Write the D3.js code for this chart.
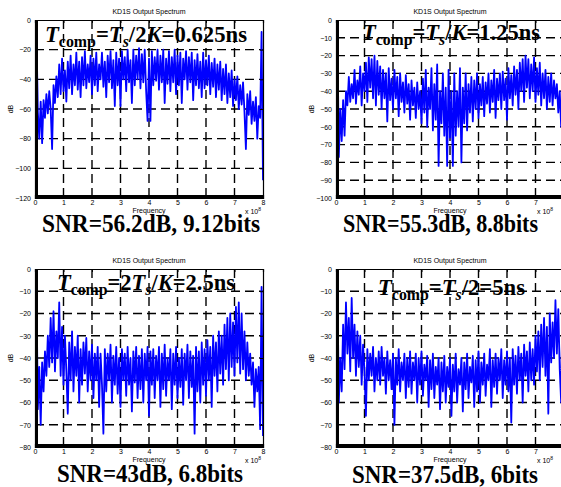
<!DOCTYPE html>
<html>
<head>
<meta charset="utf-8">
<script src="https://cdn.jsdelivr.net/npm/d3@7"></script>
<style>
	body { margin: 0; background: white; }
	svg { display: block; }
	.small { font-family: "Liberation Sans", Arial, sans-serif; font-size: 7px; fill: #000; }
	.big { font-family: "Liberation Serif", "Times New Roman", serif; font-weight: bold; fill: #000; }
	.grid line { stroke: #000; stroke-width: 1.4; stroke-dasharray: 9,5; }
	.spec { fill: none; stroke: #0000ff; stroke-width: 1.8; stroke-linejoin: round; }
</style>
</head>
<body>
<div id="container"></div>
<script>
	// frequency grid (x 10^8), step 0.05
	var freq = d3.range(0, 161).map(function(i) { return i * 0.05; });

	var xTicks = [0, 1, 2, 3, 4, 5, 6, 7, 8];
	var yTicks1 = [0, -20, -40, -60, -80, -100, -120];
	var yTicks2 = [0, -10, -20, -30, -40, -50, -60, -70, -80, -90, -100];
	var yTicks34 = [0, -10, -20, -30, -40, -50, -60, -70, -80];

	// spectrum of Tcomp = Ts/2K
	var spec1 = [
		-108,-8,-62,-80,-55,-83,-54,-66,-50,-63,-48,-60,-87,-44,-56,-38,-52,-30,-50,-26,
		-48,-34,-55,-28,-46,-24,-50,-30,-44,-22,-47,-28,-52,-25,-44,-21,-46,-30,-42,-24,
		-50,-26,-44,-22,-48,-30,-40,-22,-45,-28,-52,-24,-42,-21,-46,-27,-58,-22,-44,-26,
		-58,-21,-40,-25,-48,-20,-42,-27,-56,-20,-44,-24,-40,-19,-46,-23,-42,-20,-48,-68,
		-26,-68,-21,-44,-25,-41,-20,-47,-24,-42,-20,-56,-26,-43,-21,-48,-25,-42,-20,-50,
		-24,-44,-22,-56,-26,-40,-21,-47,-25,-42,-22,-54,-27,-44,-23,-46,-28,-52,-22,-46,
		-27,-44,-24,-50,-29,-45,-26,-52,-30,-47,-28,-54,-33,-50,-30,-56,-36,-52,-34,-58,
		-40,-54,-38,-60,-44,-57,-42,-62,-87,-50,-64,-48,-70,-55,-68,-52,-80,-58,-66,-8,
		-108
	];

	// spectrum of Tcomp = Ts/K
	var spec2 = [
		-92,-8,-77,-50,-68,-45,-65,-40,-48,-32,-46,-36,-44,-28,-47,-34,-42,-26,-48,-30,
		-40,-24,-46,-21,-38,-22,-44,-20,-48,-23,-42,-26,-50,-28,-44,-30,-57,-27,-45,-33,
		-50,-28,-44,-32,-54,-30,-46,-35,-52,-31,-47,-36,-56,-34,-48,-38,-55,-35,-50,-40,
		-58,-33,-52,-28,-60,-38,-50,-27,-62,-36,-56,-25,-82,-40,-58,-30,-65,-38,-82,-28,
		-66,-40,-82,-30,-65,-40,-60,-27,-80,-38,-58,-30,-62,-36,-52,-32,-57,-34,-50,-30,
		-55,-36,-48,-32,-54,-35,-47,-30,-52,-34,-46,-28,-55,-33,-45,-30,-50,-29,-45,-33,
		-56,-27,-44,-31,-48,-26,-42,-28,-50,-24,-40,-22,-46,-20,-38,-22,-44,-25,-40,-21,
		-46,-27,-42,-24,-48,-30,-44,-28,-50,-32,-46,-30,-48,-34,-44,-36,-52,-40,-60,-50,
		-75
	];

	// spectrum of Tcomp = 2Ts/K
	var spec3 = [
		-72,-8,-63,-44,-70,-42,-55,-37,-48,-30,-44,-22,-42,-19,-46,-28,-40,-15,-48,-26,
		-52,-30,-46,-65,-33,-50,-28,-55,-35,-48,-30,-60,-36,-52,-33,-47,-31,-55,-37,-50,
		-34,-58,-38,-50,-35,-62,-38,-52,-74,-36,-55,-38,-50,-34,-60,-39,-52,-35,-56,-40,
		-62,-36,-50,-38,-57,-35,-52,-40,-64,-37,-51,-35,-58,-39,-54,-36,-60,-38,-50,-35,
		-66,-37,-52,-36,-58,-39,-50,-35,-62,-38,-54,-34,-57,-40,-50,-36,-63,-38,-52,-35,
		-58,-40,-53,-36,-61,-38,-50,-34,-58,-37,-53,-39,-74,-35,-55,-37,-60,-33,-52,-36,
		-57,-32,-50,-35,-62,-30,-48,-33,-55,-28,-47,-30,-52,-25,-45,-22,-50,-20,-44,-24,
		-48,-17,-42,-15,-47,-20,-45,-28,-50,-33,-48,-38,-52,-42,-62,-45,-55,-44,-72,-8,
		-75
	];

	// spectrum of Tcomp = Ts/2
	var spec4 = [
		-77,-8,-60,-40,-55,-25,-45,-15,-38,-22,-46,-13,-40,-25,-48,-28,-44,-30,-52,-34,
		-46,-66,-36,-50,-38,-48,-35,-55,-40,-50,-37,-52,-35,-48,-40,-56,-37,-50,-41,-54,
		-38,-70,-40,-52,-36,-55,-42,-50,-38,-58,-40,-53,-37,-56,-42,-50,-38,-60,-40,-52,
		-37,-57,-43,-50,-39,-62,-41,-54,-38,-58,-44,-52,-40,-63,-42,-55,-39,-60,-44,-53,
		-40,-66,-43,-55,-38,-60,-45,-52,-40,-64,-42,-54,-38,-58,-44,-51,-39,-62,-41,-55,
		-37,-60,-42,-52,-38,-57,-43,-50,-36,-62,-41,-53,-38,-56,-40,-50,-36,-58,-41,-52,
		-37,-55,-40,-69,-36,-52,-39,-56,-35,-50,-38,-60,-34,-48,-37,-55,-33,-50,-36,-52,
		-30,-46,-28,-50,-25,-44,-22,-48,-26,-65,-20,-42,-24,-40,-14,-38,-18,-45,-60,-12,
		-62
	];

	var titleText = "KD1S Output Spectrum";
	var xLabel = "Frequency";
	var yLabel = "dB";

	// annotation pieces: [text, kind]  kind: n normal, i italic, sub subscript, isub italic subscript
	var tcomp1 = [["T","i"],["comp","sub"],["=","n"],["T","i"],["s","isub"],["/2","n"],["K","i"],["=0.625ns","n"]];
	var tcomp2 = [["T","i"],["comp","sub"],["=","n"],["T","i"],["s","isub"],["/","n"],["K","i"],["=1.25ns","n"]];
	var tcomp3 = [["T","i"],["comp","sub"],["=2","n"],["T","i"],["s","isub"],["/","n"],["K","i"],["=2.5ns","n"]];
	var tcomp4 = [["T","i"],["comp","sub"],["=","n"],["T","i"],["s","isub"],["/2=5ns","n"]];
	var snr1 = "SNR=56.2dB, 9.12bits";
	var snr2 = "SNR=55.3dB, 8.8bits";
	var snr3 = "SNR=43dB, 6.8bits";
	var snr4 = "SNR=37.5dB, 6bits";

	var W = 561, H = 487;

	var svg = d3.select("#container").append("svg")
		.attr("width", W)
		.attr("height", H)
		.style("background", "white");

	function bigLabel(parent, parts, x, y, len, size) {
		var t = parent.append("text")
			.attr("class", "big")
			.attr("x", x)
			.attr("y", y)
			.attr("font-size", size)
			.attr("textLength", len)
			.attr("lengthAdjust", "spacingAndGlyphs");
		var down = false;
		parts.forEach(function(p) {
			var sub = (p[1] == "sub" || p[1] == "isub");
			var ts = t.append("tspan").text(p[0]);
			if (p[1] == "i" || p[1] == "isub") ts.attr("font-style", "italic");
			if (sub) {
				ts.attr("font-size", size * 0.7);
				if (!down) { ts.attr("dy", size * 0.2); down = true; }
			} else if (down) {
				ts.attr("dy", -size * 0.2);
				down = false;
			}
		});
		return t;
	}

	function panel(cfg) {
		var w = 228, h = 178;
		var g = svg.append("g")
			.attr("transform", "translate(" + cfg.left + "," + cfg.top + ")");

		var x = d3.scaleLinear().domain([0, 8]).range([0, w]);
		var y = d3.scaleLinear().domain([cfg.ymin, 0]).range([h, 0]);

		// grid
		var grid = g.append("g").attr("class", "grid");
		grid.selectAll("line.gx")
			.data(xTicks.slice(1, -1))
			.enter().append("line")
			.attr("x1", function(d) { return x(d); })
			.attr("x2", function(d) { return x(d); })
			.attr("y1", 0)
			.attr("y2", h);
		grid.selectAll("line.gy")
			.data(cfg.yticks.slice(1, -1))
			.enter().append("line")
			.attr("class", "gy")
			.attr("x1", 0)
			.attr("x2", w)
			.attr("y1", function(d) { return y(d); })
			.attr("y2", function(d) { return y(d); });

		// data
		g.append("defs").append("clipPath")
			.attr("id", "clip" + cfg.id)
			.append("rect")
			.attr("width", w)
			.attr("height", h);

		var line = d3.line()
			.x(function(d, i) { return x(freq[i]); })
			.y(function(d) { return y(d); });

		g.append("path")
			.attr("class", "spec")
			.attr("clip-path", "url(#clip" + cfg.id + ")")
			.attr("d", line(cfg.data));

		// axes (MATLAB style, ticks inside)
		g.append("g")
			.attr("class", "small")
			.attr("transform", "translate(0," + h + ")")
			.call(d3.axisBottom(x).tickValues(xTicks).tickSize(-3).tickPadding(2).tickFormat(d3.format("d")));
		g.append("g")
			.attr("class", "small")
			.call(d3.axisLeft(y).tickValues(cfg.yticks).tickSize(-3).tickPadding(4).tickFormat(d3.format("d")));
		g.append("g")
			.call(d3.axisTop(x).tickValues(xTicks).tickSize(-3).tickFormat(""));
		g.append("g")
			.attr("transform", "translate(" + w + ",0)")
			.call(d3.axisRight(y).tickValues(cfg.yticks).tickSize(-3).tickFormat(""));
		g.selectAll(".domain").attr("stroke", "#000").attr("stroke-width", 1.2);
		g.selectAll(".tick line").attr("stroke", "#000");
		g.selectAll(".tick text").attr("font-size", 7).attr("fill", "#000")
			.attr("font-family", "Liberation Sans, Arial, sans-serif");

		// labels
		g.append("text")
			.attr("class", "small")
			.attr("x", w / 2)
			.attr("y", -6)
			.attr("text-anchor", "middle")
			.attr("font-size", 6.5)
			.text(titleText);
		g.append("text")
			.attr("class", "small")
			.attr("x", w / 2)
			.attr("y", h + 15)
			.attr("text-anchor", "middle")
			.text(xLabel);
		g.append("text")
			.attr("class", "small")
			.attr("transform", "translate(" + (-22) + "," + (h / 2) + ") rotate(-90)")
			.attr("text-anchor", "middle")
			.text(yLabel);
		var ex = g.append("text")
			.attr("class", "small")
			.attr("x", cfg.expX)
			.attr("y", h + 16)
			.attr("font-size", 6.5);
		ex.append("tspan").text("x 10");
		ex.append("tspan").attr("dy", -3).attr("font-size", 5).text("8");

		bigLabel(svg, cfg.tcomp, cfg.tx, cfg.ty, cfg.tlen, 23);
		bigLabel(svg, [[cfg.snr, "n"]], cfg.sx, cfg.sy, cfg.slen, 25);
	}

	panel({ id: 1, left: 35, top: 20, ymin: -120, yticks: yTicks1, data: spec1, expX: 210,
		tcomp: tcomp1, tx: 45, ty: 42, tlen: 202, snr: snr1, sx: 42, sy: 232, slen: 218 });
	panel({ id: 2, left: 336, top: 20, ymin: -100, yticks: yTicks2, data: spec2, expX: 201,
		tcomp: tcomp2, tx: 362, ty: 40, tlen: 178, snr: snr2, sx: 343, sy: 232, slen: 195 });
	panel({ id: 3, left: 35, top: 269, ymin: -80, yticks: yTicks34, data: spec3, expX: 210,
		tcomp: tcomp3, tx: 57, ty: 290, tlen: 178, snr: snr3, sx: 57, sy: 482, slen: 186 });
	panel({ id: 4, left: 336, top: 269, ymin: -80, yticks: yTicks34, data: spec4, expX: 201,
		tcomp: tcomp4, tx: 378, ty: 295, tlen: 147, snr: snr4, sx: 352, sy: 483, slen: 186 });
</script>
</body>
</html>
